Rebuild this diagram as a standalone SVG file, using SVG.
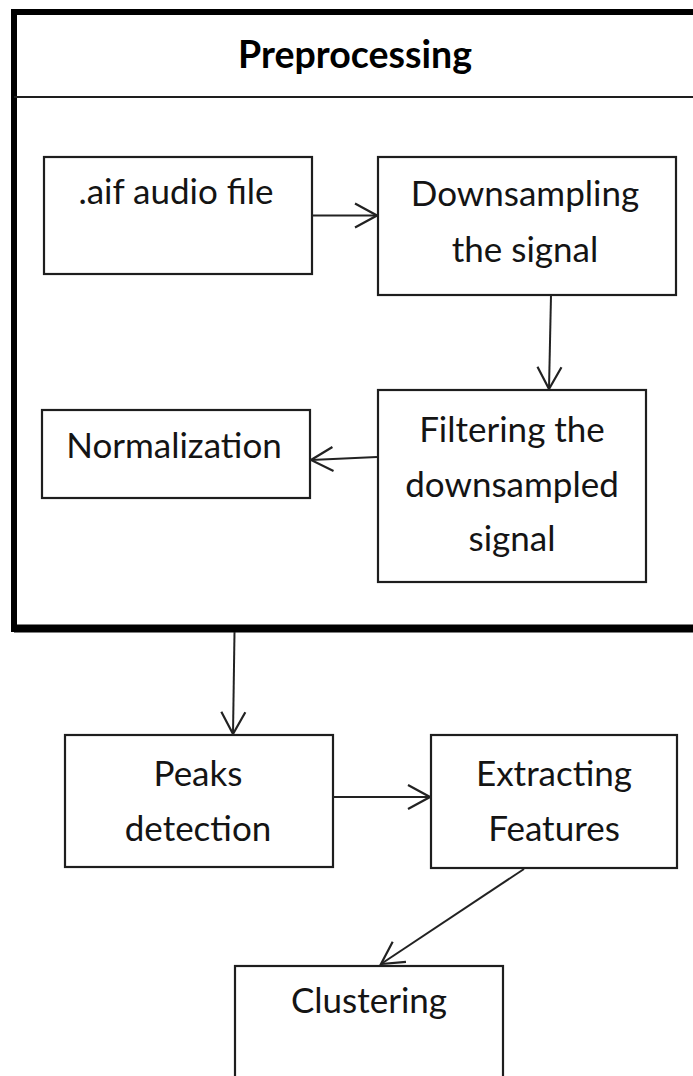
<svg xmlns="http://www.w3.org/2000/svg" width="693" height="1076" viewBox="0 0 693 1076">
<style>
.box{fill:#fff;stroke:#1e1e1e;stroke-width:2.2}
.t{font-family:Lato,"Liberation Sans",sans-serif;font-size:35px;fill:#141414;text-anchor:middle}
.title{font-family:Lato,"Liberation Sans",sans-serif;font-size:37.5px;font-weight:bold;fill:#000;text-anchor:middle}
.c{fill:none;stroke:#222;stroke-width:2}
</style>
<defs>
<marker id="ah" viewBox="0 0 26 28" refX="24" refY="14" markerWidth="26" markerHeight="28" markerUnits="userSpaceOnUse" orient="auto">
<path d="M2,2 L24,14 L2,26" fill="none" stroke="#222" stroke-width="2.2"/>
</marker>
</defs>
<rect width="693" height="1076" fill="#fff"/>
<g id="preprocessing">
<rect x="14" y="12" width="700" height="617" fill="none" stroke="#000" stroke-width="6"/>
<line x1="14" y1="628.5" x2="700" y2="628.5" stroke="#000" stroke-width="8"/>
<line x1="14" y1="97" x2="700" y2="97" stroke="#1e1e1e" stroke-width="2"/>
<text class="title" x="355" y="68">Preprocessing</text>
</g>
<g id="aif">
<rect class="box" x="44" y="157" width="268" height="117"/>
<text class="t" x="176" y="204">.aif audio file</text>
</g>
<g id="downsampling">
<rect class="box" x="378" y="157" width="298" height="138"/>
<text class="t" x="525" y="206">Downsampling</text>
<text class="t" x="525" y="262">the signal</text>
</g>
<g id="filtering">
<rect class="box" x="378" y="390" width="268" height="192"/>
<text class="t" x="512" y="442">Filtering the</text>
<text class="t" x="512" y="497">downsampled</text>
<text class="t" x="512" y="551">signal</text>
</g>
<g id="normalization">
<rect class="box" x="42" y="410" width="268" height="88"/>
<text class="t" x="174" y="458">Normalization</text>
</g>
<g id="peaks">
<rect class="box" x="65" y="735" width="268" height="132"/>
<text class="t" x="198" y="786">Peaks</text>
<text class="t" x="198" y="841">detection</text>
</g>
<g id="extracting">
<rect class="box" x="431" y="735" width="246" height="133"/>
<text class="t" x="554" y="786">Extracting</text>
<text class="t" x="554" y="841">Features</text>
</g>
<g id="clustering">
<rect class="box" x="235" y="966" width="268" height="130"/>
<text class="t" x="369" y="1013">Clustering</text>
</g>
<g id="connectors">
<line class="c" x1="312" y1="215.5" x2="377" y2="215.5" marker-end="url(#ah)"/>
<line class="c" x1="551" y1="295" x2="549" y2="389" marker-end="url(#ah)"/>
<line class="c" x1="377" y1="457" x2="311" y2="460" marker-end="url(#ah)"/>
<line class="c" x1="234.5" y1="632" x2="233" y2="734" marker-end="url(#ah)"/>
<line class="c" x1="333" y1="797" x2="430" y2="797" marker-end="url(#ah)"/>
<line class="c" x1="524" y1="869" x2="381" y2="964" marker-end="url(#ah)"/>
</g>
</svg>
